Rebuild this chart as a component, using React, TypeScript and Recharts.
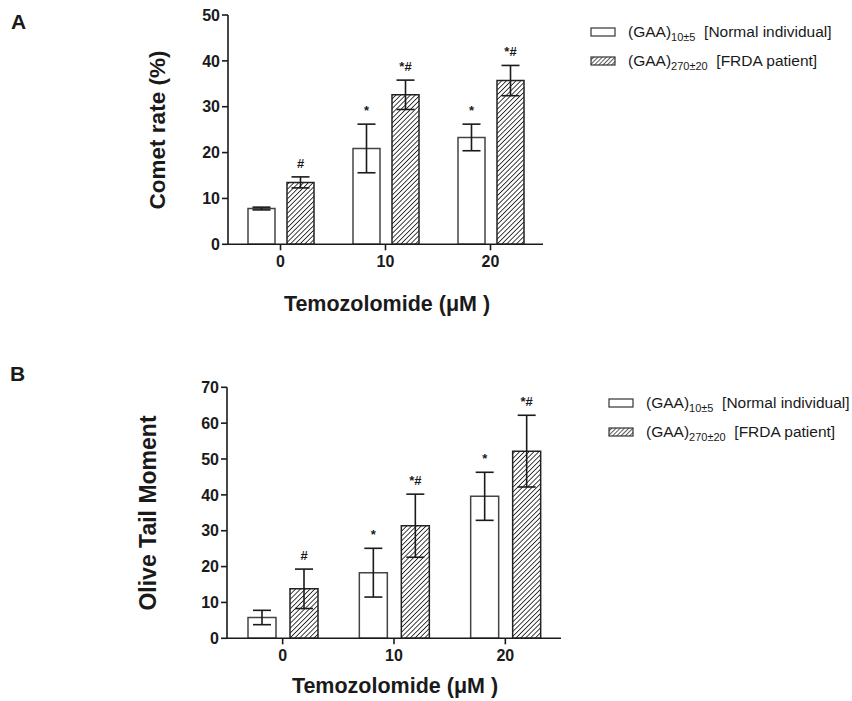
import { BarChart, Bar, XAxis, YAxis, ErrorBar, LabelList } from 'recharts'

const doses = ['0', '10', '20']

// panel A: comet rate (%)
const cometNormal = [7.8, 20.9, 23.3]
const cometNormalErr = [0.3, 5.3, 2.9]
const cometNormalMark = ['', '*', '*']
const cometFrda = [13.5, 32.6, 35.7]
const cometFrdaErr = [1.2, 3.2, 3.3]
const cometFrdaMark = ['#', '*#', '*#']
const cometTicks = [0, 10, 20, 30, 40, 50]

// panel B: olive tail moment
const oliveNormal = [5.8, 18.3, 39.6]
const oliveNormalErr = [2.0, 6.8, 6.7]
const oliveNormalMark = ['', '*', '*']
const oliveFrda = [13.8, 31.4, 52.2]
const oliveFrdaErr = [5.5, 8.8, 10.0]
const oliveFrdaMark = ['#', '*#', '*#']
const oliveTicks = [0, 10, 20, 30, 40, 50, 60, 70]

const FONT = "'Liberation Sans', Arial, Helvetica, sans-serif"
const INK = '#1a1a1a'

const tickStyle = { fill: INK, fontSize: 16, fontWeight: 700, fontFamily: FONT }

function rows(n: number[], nErr: number[], nMark: string[], f: number[], fErr: number[], fMark: string[]) {
  return doses.map((d, i) => ({
    dose: d,
    normal: n[i], normalErr: nErr[i], normalMark: nMark[i],
    frda: f[i], frdaErr: fErr[i], frdaMark: fMark[i],
  }))
}

// star / hash above the error bar, using the bar's own scale (height/value)
function makeMark(errs: number[], vals: number[]) {
  return (props: any) => {
    const { x, y, width, height, value, index } = props
    if (!value) return null
    const pxPerUnit = height / vals[index]
    const top = y - errs[index] * pxPerUnit
    return (
      <text x={x + width / 2} y={top - 9} textAnchor="middle"
        style={{ fontSize: 13, fontWeight: 700, fontFamily: FONT, fill: INK }}>
        {value}
      </text>
    )
  }
}

function Hatch({ id }: { id: string }) {
  return (
    <defs>
      <pattern id={id} width={3.4} height={3.4} patternUnits="userSpaceOnUse" patternTransform="rotate(45)">
        <rect width={3.4} height={3.4} fill="#fff" />
        <line x1={0} y1={0} x2={0} y2={3.4} stroke="#111" strokeWidth={1.6} />
      </pattern>
    </defs>
  )
}

function Panel(props: {
  data: any[], id: string, width: number, height: number, margin: any, yWidth: number,
  domainMax: number, ticks: number[], barSize: number, barGap: number, cap: number,
  nErr: number[], nVal: number[], fErr: number[], fVal: number[],
}) {
  const p = props
  return (
    <BarChart width={p.width} height={p.height} data={p.data} margin={p.margin}
      barSize={p.barSize} barGap={p.barGap}>
      <Hatch id={p.id} />
      <XAxis dataKey="dose" tick={tickStyle} tickSize={6} tickMargin={5} height={30}
        axisLine={{ stroke: INK, strokeWidth: 1.6 }} tickLine={{ stroke: INK, strokeWidth: 1.6 }} />
      <YAxis type="number" domain={[0, p.domainMax]} ticks={p.ticks} width={p.yWidth}
        tick={tickStyle} tickSize={6} tickMargin={2} interval={0}
        axisLine={{ stroke: INK, strokeWidth: 1.6 }} tickLine={{ stroke: INK, strokeWidth: 1.6 }} />
      <Bar dataKey="normal" fill="#fff" stroke="#444" strokeWidth={1.5} isAnimationActive={false}>
        <ErrorBar dataKey="normalErr" width={9} stroke={INK} strokeWidth={1.6} direction="y" isAnimationActive={false} />
        <LabelList dataKey="normalMark" content={makeMark(p.nErr, p.nVal)} />
      </Bar>
      <Bar dataKey="frda" fill={`url(#${p.id})`} stroke="#222" strokeWidth={1.5} isAnimationActive={false}>
        <ErrorBar dataKey="frdaErr" width={p.cap} stroke={INK} strokeWidth={1.6} direction="y" isAnimationActive={false} />
        <LabelList dataKey="frdaMark" content={makeMark(p.fErr, p.fVal)} />
      </Bar>
    </BarChart>
  )
}

function LegendBox({ hatched }: { hatched: boolean }) {
  return (
    <svg width={26} height={10} style={{ display: 'block' }}>
      <defs>
        <pattern id="legHatch" width={3} height={3} patternUnits="userSpaceOnUse" patternTransform="rotate(45)">
          <rect width={3} height={3} fill="#fff" />
          <line x1={0} y1={0} x2={0} y2={3} stroke="#111" strokeWidth={1.4} />
        </pattern>
      </defs>
      <rect x={1} y={1} width={24} height={8} fill={hatched ? 'url(#legHatch)' : '#fff'} stroke="#333" strokeWidth={1.2} />
    </svg>
  )
}

function LegendRow({ hatched, sub, label, x, y }: { hatched: boolean, sub: string, label: string, x: number, y: number }) {
  return (
    <div style={{ position: 'absolute', left: x, top: y - 10, height: 20, display: 'flex', alignItems: 'center', whiteSpace: 'nowrap', fontFamily: FONT, fontSize: 15.5, color: INK }}>
      <LegendBox hatched={hatched} />
      <span style={{ marginLeft: 12 }}>
        (GAA)<sub style={{ fontSize: 11, verticalAlign: '-0.35em', lineHeight: 0 }}>{sub}</sub>&nbsp; {label}
      </span>
    </div>
  )
}

const abs = (left: number, top: number, extra: any = {}) => ({ position: 'absolute' as const, left, top, ...extra })

export default function App() {
  const dataA = rows(cometNormal, cometNormalErr, cometNormalMark, cometFrda, cometFrdaErr, cometFrdaMark)
  const dataB = rows(oliveNormal, oliveNormalErr, oliveNormalMark, oliveFrda, oliveFrdaErr, oliveFrdaMark)
  const titleStyle = { fontFamily: FONT, fontWeight: 700, fontSize: 21.5, color: INK, whiteSpace: 'nowrap' as const }
  return (
    <div style={{ position: 'absolute', left: 0, top: 0, width: 852, height: 701, background: '#fff', overflow: 'hidden' }}>
      <div style={abs(11, 10, { fontFamily: FONT, fontWeight: 700, fontSize: 21, color: INK })}>A</div>
      <div style={abs(10, 362, { fontFamily: FONT, fontWeight: 700, fontSize: 21, color: INK })}>B</div>

      <div style={abs(0, 0)}>
        <Panel data={dataA} id="hatchA" width={560} height={300}
          margin={{ top: 15, right: 17, left: 0, bottom: 25.7 }} yWidth={228}
          domainMax={50} ticks={cometTicks} barSize={27} barGap={12} cap={9}
          nErr={cometNormalErr} nVal={cometNormal} fErr={cometFrdaErr} fVal={cometFrda} />
      </div>
      <div style={abs(0, 360)}>
        <Panel data={dataB} id="hatchB" width={580} height={340}
          margin={{ top: 27.3, right: 19, left: 0, bottom: 31.7 }} yWidth={227}
          domainMax={70} ticks={oliveTicks} barSize={28} barGap={14} cap={9}
          nErr={oliveNormalErr} nVal={oliveNormal} fErr={oliveFrdaErr} fVal={oliveFrda} />
      </div>

      <div style={abs(158, 129.5, { ...titleStyle, fontSize: 22.5, transform: 'translate(-50%, -50%) rotate(-90deg)' })}>Comet rate (%)</div>
      <div style={abs(387, 304, { ...titleStyle, transform: 'translate(-50%, -50%)' })}>Temozolomide (μM )</div>
      <div style={abs(148, 513, { ...titleStyle, fontSize: 23, transform: 'translate(-50%, -50%) rotate(-90deg)' })}>Olive Tail Moment</div>
      <div style={abs(395, 686, { ...titleStyle, transform: 'translate(-50%, -50%)' })}>Temozolomide (μM )</div>

      <LegendRow hatched={false} sub="10±5" label="[Normal individual]" x={590} y={32} />
      <LegendRow hatched={true} sub="270±20" label="[FRDA patient]" x={590} y={61} />
      <LegendRow hatched={false} sub="10±5" label="[Normal individual]" x={608} y={403} />
      <LegendRow hatched={true} sub="270±20" label="[FRDA patient]" x={608} y={432} />
    </div>
  )
}
